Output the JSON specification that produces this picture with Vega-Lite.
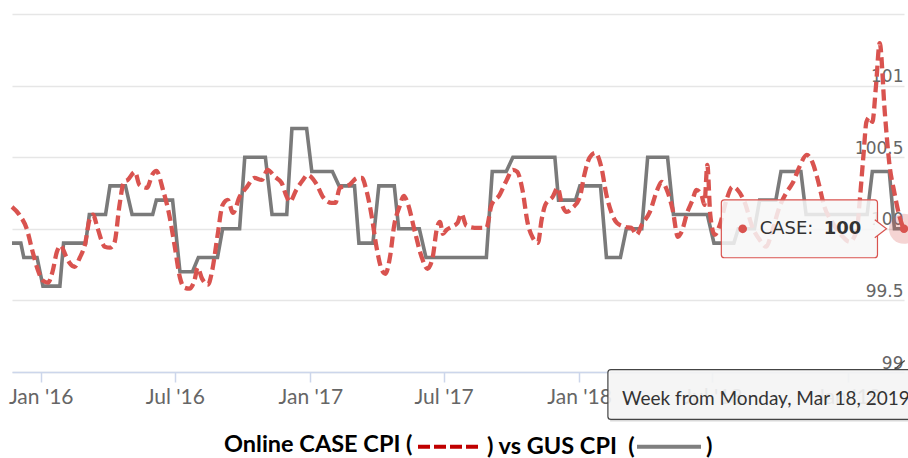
{
  "$schema": "https://vega.github.io/schema/vega-lite/v6.json",
  "width": 892,
  "height": 358,
  "autosize": {"type": "none"},
  "padding": {"left": 12, "top": 14, "right": 4, "bottom": 86},
  "background": "#ffffff",
  "config": {
    "view": {"stroke": null},
    "legend": {
      "titleFont": "Lato", "titleFontSize": 23.5, "titleFontWeight": "bold", "titleColor": "#000000",
      "labelFont": "Lato", "labelFontSize": 23.5, "labelFontWeight": "bold", "labelColor": "#000000",
      "labelLimit": 0, "titleLimit": 0, "padding": 0, "offset": 0, "rowPadding": 0,
      "columnPadding": -6, "labelOffset": 3, "titlePadding": 0,
      "symbolStrokeWidth": 4, "symbolType": "M-1,0L1,0", "symbolSize": 4096
    }
  },
  "datasets": {
    "gus": [
      {"date": "2015-11-23", "value": 99.9},
      {"date": "2015-12-05", "value": 99.9},
      {"date": "2015-12-09", "value": 99.8},
      {"date": "2015-12-27", "value": 99.8},
      {"date": "2016-01-04", "value": 99.6},
      {"date": "2016-01-27", "value": 99.6},
      {"date": "2016-02-01", "value": 99.9},
      {"date": "2016-03-02", "value": 99.9},
      {"date": "2016-03-07", "value": 100.1},
      {"date": "2016-03-29", "value": 100.1},
      {"date": "2016-04-04", "value": 100.3},
      {"date": "2016-04-25", "value": 100.3},
      {"date": "2016-05-04", "value": 100.1},
      {"date": "2016-06-01", "value": 100.1},
      {"date": "2016-06-06", "value": 100.2},
      {"date": "2016-06-28", "value": 100.2},
      {"date": "2016-07-08", "value": 99.7},
      {"date": "2016-07-25", "value": 99.7},
      {"date": "2016-08-02", "value": 99.8},
      {"date": "2016-08-28", "value": 99.8},
      {"date": "2016-09-04", "value": 100.0},
      {"date": "2016-09-27", "value": 100.0},
      {"date": "2016-10-04", "value": 100.5},
      {"date": "2016-11-01", "value": 100.5},
      {"date": "2016-11-10", "value": 100.1},
      {"date": "2016-11-30", "value": 100.1},
      {"date": "2016-12-07", "value": 100.7},
      {"date": "2016-12-27", "value": 100.7},
      {"date": "2017-01-03", "value": 100.4},
      {"date": "2017-01-31", "value": 100.4},
      {"date": "2017-02-09", "value": 100.3},
      {"date": "2017-03-02", "value": 100.3},
      {"date": "2017-03-08", "value": 99.9},
      {"date": "2017-03-27", "value": 99.9},
      {"date": "2017-04-04", "value": 100.3},
      {"date": "2017-04-25", "value": 100.3},
      {"date": "2017-05-01", "value": 100.0},
      {"date": "2017-05-29", "value": 100.0},
      {"date": "2017-06-07", "value": 99.8},
      {"date": "2017-08-28", "value": 99.8},
      {"date": "2017-09-05", "value": 100.4},
      {"date": "2017-09-24", "value": 100.4},
      {"date": "2017-10-03", "value": 100.5},
      {"date": "2017-11-29", "value": 100.5},
      {"date": "2017-12-04", "value": 100.2},
      {"date": "2017-12-27", "value": 100.2},
      {"date": "2018-01-02", "value": 100.3},
      {"date": "2018-01-30", "value": 100.3},
      {"date": "2018-02-07", "value": 99.8},
      {"date": "2018-02-26", "value": 99.8},
      {"date": "2018-03-06", "value": 100.0},
      {"date": "2018-03-27", "value": 100.0},
      {"date": "2018-04-04", "value": 100.5},
      {"date": "2018-05-01", "value": 100.5},
      {"date": "2018-05-09", "value": 100.1},
      {"date": "2018-06-24", "value": 100.1},
      {"date": "2018-07-03", "value": 99.9},
      {"date": "2018-07-30", "value": 99.9},
      {"date": "2018-08-05", "value": 100.0},
      {"date": "2018-08-27", "value": 100.0},
      {"date": "2018-09-03", "value": 100.2},
      {"date": "2018-09-25", "value": 100.2},
      {"date": "2018-10-02", "value": 100.4},
      {"date": "2018-10-29", "value": 100.4},
      {"date": "2018-11-05", "value": 100.1},
      {"date": "2019-01-27", "value": 100.1},
      {"date": "2019-02-03", "value": 100.4},
      {"date": "2019-02-26", "value": 100.4},
      {"date": "2019-03-05", "value": 100.0},
      {"date": "2019-03-18", "value": 100.0}
    ],
    "case": [
      {"date": "2015-11-23", "value": 100.153},
      {"date": "2015-12-03", "value": 100.098},
      {"date": "2015-12-13", "value": 100.0},
      {"date": "2015-12-21", "value": 99.84},
      {"date": "2015-12-28", "value": 99.714},
      {"date": "2016-01-04", "value": 99.638},
      {"date": "2016-01-11", "value": 99.624},
      {"date": "2016-01-17", "value": 99.7},
      {"date": "2016-01-23", "value": 99.84},
      {"date": "2016-01-28", "value": 99.882},
      {"date": "2016-02-04", "value": 99.812},
      {"date": "2016-02-09", "value": 99.763},
      {"date": "2016-02-16", "value": 99.735},
      {"date": "2016-02-23", "value": 99.798},
      {"date": "2016-03-01", "value": 99.889},
      {"date": "2016-03-08", "value": 100.077},
      {"date": "2016-03-12", "value": 100.098},
      {"date": "2016-03-18", "value": 100.007},
      {"date": "2016-03-28", "value": 99.875},
      {"date": "2016-04-04", "value": 99.868},
      {"date": "2016-04-10", "value": 99.902},
      {"date": "2016-04-17", "value": 100.167},
      {"date": "2016-04-23", "value": 100.328},
      {"date": "2016-04-28", "value": 100.341},
      {"date": "2016-05-08", "value": 100.397},
      {"date": "2016-05-14", "value": 100.307},
      {"date": "2016-05-24", "value": 100.286},
      {"date": "2016-06-01", "value": 100.383},
      {"date": "2016-06-06", "value": 100.404},
      {"date": "2016-06-15", "value": 100.272},
      {"date": "2016-06-24", "value": 100.084},
      {"date": "2016-07-01", "value": 99.875},
      {"date": "2016-07-08", "value": 99.659},
      {"date": "2016-07-14", "value": 99.589},
      {"date": "2016-07-21", "value": 99.582},
      {"date": "2016-07-28", "value": 99.645},
      {"date": "2016-08-01", "value": 99.728},
      {"date": "2016-08-07", "value": 99.652},
      {"date": "2016-08-15", "value": 99.61},
      {"date": "2016-08-21", "value": 99.714},
      {"date": "2016-08-28", "value": 99.951},
      {"date": "2016-09-04", "value": 100.167},
      {"date": "2016-09-11", "value": 100.202},
      {"date": "2016-09-18", "value": 100.111},
      {"date": "2016-09-27", "value": 100.223},
      {"date": "2016-10-07", "value": 100.293},
      {"date": "2016-10-17", "value": 100.355},
      {"date": "2016-10-27", "value": 100.341},
      {"date": "2016-11-04", "value": 100.411},
      {"date": "2016-11-14", "value": 100.362},
      {"date": "2016-11-23", "value": 100.321},
      {"date": "2016-11-30", "value": 100.223},
      {"date": "2016-12-04", "value": 100.188},
      {"date": "2016-12-13", "value": 100.272},
      {"date": "2016-12-22", "value": 100.341},
      {"date": "2016-12-28", "value": 100.376},
      {"date": "2017-01-10", "value": 100.307},
      {"date": "2017-01-18", "value": 100.223},
      {"date": "2017-01-30", "value": 100.181},
      {"date": "2017-02-04", "value": 100.181},
      {"date": "2017-02-10", "value": 100.286},
      {"date": "2017-02-23", "value": 100.307},
      {"date": "2017-03-06", "value": 100.355},
      {"date": "2017-03-12", "value": 100.355},
      {"date": "2017-03-18", "value": 100.272},
      {"date": "2017-03-25", "value": 100.098},
      {"date": "2017-04-01", "value": 99.868},
      {"date": "2017-04-08", "value": 99.714},
      {"date": "2017-04-13", "value": 99.686},
      {"date": "2017-04-19", "value": 99.798},
      {"date": "2017-04-25", "value": 100.028},
      {"date": "2017-05-02", "value": 100.153},
      {"date": "2017-05-08", "value": 100.23},
      {"date": "2017-05-13", "value": 100.181},
      {"date": "2017-05-23", "value": 99.979},
      {"date": "2017-06-01", "value": 99.805},
      {"date": "2017-06-09", "value": 99.721},
      {"date": "2017-06-16", "value": 99.798},
      {"date": "2017-06-22", "value": 100.007},
      {"date": "2017-06-26", "value": 100.049},
      {"date": "2017-06-30", "value": 99.965},
      {"date": "2017-07-05", "value": 99.993},
      {"date": "2017-07-12", "value": 100.014},
      {"date": "2017-07-20", "value": 100.042},
      {"date": "2017-07-25", "value": 100.105},
      {"date": "2017-08-01", "value": 100.021},
      {"date": "2017-08-12", "value": 100.007},
      {"date": "2017-08-28", "value": 100.007},
      {"date": "2017-09-04", "value": 100.167},
      {"date": "2017-09-15", "value": 100.237},
      {"date": "2017-09-24", "value": 100.334},
      {"date": "2017-10-03", "value": 100.411},
      {"date": "2017-10-09", "value": 100.397},
      {"date": "2017-10-16", "value": 100.272},
      {"date": "2017-10-23", "value": 100.042},
      {"date": "2017-10-30", "value": 99.937},
      {"date": "2017-11-06", "value": 99.902},
      {"date": "2017-11-11", "value": 100.063},
      {"date": "2017-11-16", "value": 100.167},
      {"date": "2017-11-26", "value": 100.223},
      {"date": "2017-12-03", "value": 100.286},
      {"date": "2017-12-08", "value": 100.181},
      {"date": "2017-12-15", "value": 100.118},
      {"date": "2017-12-23", "value": 100.146},
      {"date": "2018-01-02", "value": 100.223},
      {"date": "2018-01-08", "value": 100.376},
      {"date": "2018-01-15", "value": 100.495},
      {"date": "2018-01-23", "value": 100.53},
      {"date": "2018-01-31", "value": 100.432},
      {"date": "2018-02-07", "value": 100.237},
      {"date": "2018-02-14", "value": 100.111},
      {"date": "2018-02-21", "value": 100.042},
      {"date": "2018-03-04", "value": 100.014},
      {"date": "2018-03-13", "value": 100.007},
      {"date": "2018-03-20", "value": 99.958},
      {"date": "2018-03-27", "value": 100.028},
      {"date": "2018-04-07", "value": 100.118},
      {"date": "2018-04-16", "value": 100.258},
      {"date": "2018-04-23", "value": 100.328},
      {"date": "2018-05-01", "value": 100.258},
      {"date": "2018-05-08", "value": 100.132},
      {"date": "2018-05-15", "value": 99.944},
      {"date": "2018-05-20", "value": 99.979},
      {"date": "2018-05-28", "value": 100.118},
      {"date": "2018-06-04", "value": 100.202},
      {"date": "2018-06-09", "value": 100.272},
      {"date": "2018-06-16", "value": 100.237},
      {"date": "2018-06-20", "value": 100.167},
      {"date": "2018-06-24", "value": 100.446},
      {"date": "2018-06-28", "value": 100.098},
      {"date": "2018-07-04", "value": 99.958},
      {"date": "2018-07-11", "value": 100.028},
      {"date": "2018-07-20", "value": 100.202},
      {"date": "2018-07-28", "value": 100.293},
      {"date": "2018-08-04", "value": 100.272},
      {"date": "2018-08-14", "value": 100.181},
      {"date": "2018-08-24", "value": 100.014},
      {"date": "2018-09-03", "value": 99.923},
      {"date": "2018-09-12", "value": 99.875},
      {"date": "2018-09-19", "value": 99.965},
      {"date": "2018-09-30", "value": 100.153},
      {"date": "2018-10-10", "value": 100.258},
      {"date": "2018-10-18", "value": 100.321},
      {"date": "2018-10-27", "value": 100.432},
      {"date": "2018-11-06", "value": 100.516},
      {"date": "2018-11-14", "value": 100.46},
      {"date": "2018-11-21", "value": 100.341},
      {"date": "2018-11-30", "value": 100.153},
      {"date": "2018-12-11", "value": 100.042},
      {"date": "2018-12-25", "value": 99.944},
      {"date": "2019-01-03", "value": 99.909},
      {"date": "2019-01-13", "value": 99.993},
      {"date": "2019-01-17", "value": 100.202},
      {"date": "2019-01-22", "value": 100.516},
      {"date": "2019-01-26", "value": 100.746},
      {"date": "2019-01-30", "value": 100.78},
      {"date": "2019-02-03", "value": 100.746},
      {"date": "2019-02-08", "value": 101.0},
      {"date": "2019-02-13", "value": 101.296},
      {"date": "2019-02-20", "value": 100.808},
      {"date": "2019-02-26", "value": 100.46},
      {"date": "2019-03-05", "value": 100.251},
      {"date": "2019-03-12", "value": 100.084},
      {"date": "2019-03-18", "value": 99.993}
    ]
  },
  "encoding": {
    "x": {
      "field": "date", "type": "temporal",
      "scale": {"domain": [{"year": 2015, "month": 11, "date": 23}, {"year": 2019, "month": 3, "date": 18}]},
      "axis": {
        "title": null, "grid": false, "format": "%b '%y",
        "values": [
          {"year": 2016, "month": 1, "date": 1}, {"year": 2016, "month": 7, "date": 1},
          {"year": 2017, "month": 1, "date": 1}, {"year": 2017, "month": 7, "date": 1},
          {"year": 2018, "month": 1, "date": 1}, {"year": 2018, "month": 7, "date": 1},
          {"year": 2019, "month": 1, "date": 1}
        ],
        "domainColor": "#ccd6eb", "domainWidth": 1.5, "tickColor": "#ccd6eb", "tickWidth": 1.5, "tickSize": 10,
        "labelPadding": 4, "labelFlush": false, "labelOverlap": false,
        "labelFont": "Lato", "labelFontSize": 21, "labelColor": "#666666"
      }
    },
    "y": {
      "field": "value", "type": "quantitative",
      "scale": {"domain": [99, 101.5], "nice": false, "zero": false},
      "axis": {
        "orient": "right", "title": null, "values": [99, 99.5, 100, 100.5, 101, 101.5],
        "format": ".1~f", "labelExpr": "datum.value > 101.4 ? '' : datum.label",
        "grid": true, "gridColor": "#e6e6e6", "gridWidth": 1.5,
        "domain": false, "ticks": false, "tickSize": 0,
        "labelPadding": -1, "labelAlign": "right", "labelBaseline": "alphabetic", "labelOffset": -4,
        "labelFont": "DejaVu Sans", "labelFontSize": 17, "labelColor": "#666666"
      }
    }
  },
  "layer": [
    {
      "data": {"name": "gus"},
      "mark": {"type": "line", "stroke": "#7a7a7a", "strokeWidth": 3.6, "interpolate": "linear"}
    },
    {
      "data": {"name": "case"},
      "mark": {"type": "line", "stroke": "#d9534f", "strokeWidth": 4.3, "strokeDash": [11, 5], "interpolate": "monotone"}
    },
    {
      "data": {"values": [
        {"series": "CASE", "date": "2016-06-01", "value": 100},
        {"series": "GUS", "date": "2016-06-01", "value": 100}
      ]},
      "mark": {"type": "line", "strokeWidth": 4},
      "encoding": {
        "color": {
          "field": "series", "type": "nominal", "title": null,
          "scale": {"domain": ["CASE", "GUS"], "range": ["#c00000", "#7f7f7f"]},
          "legend": {"orient": "none", "legendX": 404, "legendY": 398.5, "direction": "horizontal", "title": null,
                     "labelExpr": "datum.value === 'CASE' ? ')\u00a0vs\u00a0GUS\u00a0CPI\u00a0\u00a0(' : ')'"}
        },
        "strokeDash": {
          "field": "series", "type": "nominal", "title": null,
          "scale": {"domain": ["CASE", "GUS"], "range": [[12, 4], [1, 0]]},
          "legend": {"orient": "none", "legendX": 404, "legendY": 398.5, "direction": "horizontal", "title": null,
                     "labelExpr": "datum.value === 'CASE' ? ')\u00a0vs\u00a0GUS\u00a0CPI\u00a0\u00a0(' : ')'"}
        }
      }
    },
    {
      "data": {"values": [{"caption": "Online CASE CPI (", "date": "2016-06-01", "value": 100}]},
      "mark": {"type": "line"},
      "encoding": {
        "strokeWidth": {
          "field": "caption", "type": "ordinal", "title": null,
          "scale": {"domain": ["Online CASE CPI ("], "range": [0]},
          "legend": {"orient": "none", "legendX": 212, "legendY": 431, "direction": "horizontal", "title": null,
                     "symbolOpacity": 0, "labelOffset": 0}
        }
      }
    },
    {
      "data": {"values": [{"date": "2018-02-12", "date2": "2019-04-05", "value": 99.003, "value2": 98.655}]},
      "mark": {"type": "rect", "fill": "#000000", "fillOpacity": 0.15},
      "encoding": {"x2": {"field": "date2"}, "y2": {"field": "value2"}}
    },
    {
      "data": {"values": [{"date": "2018-02-09", "date2": "2019-04-02", "value": 99.017, "value2": 98.669}]},
      "mark": {"type": "rect", "fill": "#f7f7f7", "fillOpacity": 0.9, "stroke": "#444444", "strokeWidth": 1.2, "cornerRadius": 3},
      "encoding": {"x2": {"field": "date2"}, "y2": {"field": "value2"}}
    },
    {
      "data": {"values": [{"date": "2019-03-05", "date2": "2019-03-19", "value": 99.017, "value2": 99.08}]},
      "mark": {"type": "rule", "stroke": "#444444", "strokeWidth": 1.2},
      "encoding": {"x2": {"field": "date2"}, "y2": {"field": "value2"}}
    },
    {
      "data": {"values": [{"date": "2018-02-28", "value": 98.808, "label": "Week from Monday, Mar 18, 2019"}]},
      "mark": {"type": "text", "align": "left", "baseline": "middle", "fill": "#333333", "font": "Lato", "fontSize": 19},
      "encoding": {"text": {"field": "label"}}
    },
    {
      "data": {"values": [{"date": "2018-07-13", "date2": "2019-02-10", "value": 100.202, "value2": 99.798}]},
      "mark": {"type": "rect", "fill": "#f7f7f7", "fillOpacity": 0.85, "stroke": "#d9534f", "strokeWidth": 1.2, "cornerRadius": 3},
      "encoding": {"x2": {"field": "date2"}, "y2": {"field": "value2"}}
    },
    {
      "data": {"values": [{"date": "2019-02-10", "value": 100.0}]},
      "mark": {"type": "point", "shape": "M-0.3,-1L1,0L-0.3,1", "size": 324, "filled": true, "fill": "#f8f8f8", "fillOpacity": 1, "stroke": "#d9534f", "strokeWidth": 1.2, "opacity": 1}
    },
    {
      "data": {"values": [{"date": "2019-03-18", "value": 100.0}]},
      "mark": {"type": "point", "shape": "circle", "size": 900, "filled": true, "fill": "#d9534f", "opacity": 0.25, "strokeWidth": 0}
    },
    {
      "data": {"values": [{"date": "2019-03-18", "value": 100.0}]},
      "mark": {"type": "point", "shape": "circle", "size": 70, "filled": true, "fill": "#d9534f", "opacity": 1, "strokeWidth": 0}
    },
    {
      "data": {"values": [{"date": "2018-08-11", "value": 100.0}]},
      "mark": {"type": "point", "shape": "circle", "size": 75, "filled": true, "fill": "#d9534f", "opacity": 1, "strokeWidth": 0}
    },
    {
      "data": {"values": [{"date": "2018-09-03", "value": 100.0, "label": "CASE:"}]},
      "mark": {"type": "text", "align": "left", "baseline": "middle", "fill": "#333333", "font": "DejaVu Sans", "fontSize": 18},
      "encoding": {"text": {"field": "label"}}
    },
    {
      "data": {"values": [{"date": "2018-11-29", "value": 100.0, "label": "100"}]},
      "mark": {"type": "text", "align": "left", "baseline": "middle", "fill": "#333333", "font": "DejaVu Sans", "fontSize": 18, "fontWeight": "bold"},
      "encoding": {"text": {"field": "label"}}
    }
  ]
}
